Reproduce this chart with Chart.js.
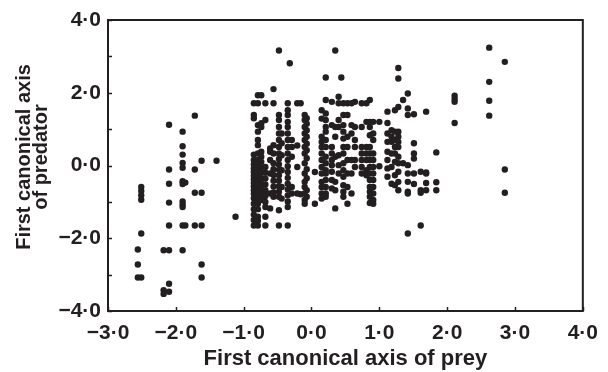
<!DOCTYPE html>
<html>
<head>
<meta charset="utf-8">
<script src="https://cdn.jsdelivr.net/npm/chart.js@4/dist/chart.umd.min.js"></script>
<style>
  html, body { margin: 0; padding: 0; background: #fff; }
  #wrap { width: 608px; height: 372px; }
</style>
</head>
<body>
<div id="wrap"><canvas id="chart" width="608" height="372"></canvas></div>
<script>
// First canonical axis of prey (x) — one entry per vertical column of dots
const preyColumns = [
  -2.56, -2.51, -2.18, -2.10, -1.90, -1.86, -1.72, -1.62, -1.40, -1.12,
  -0.85, -0.79, -0.74, -0.68, -0.61, -0.56, -0.48, -0.44, -0.35, -0.32,
  -0.29, -0.21, -0.16, -0.10, -0.07, 0.05, 0.15, 0.21, 0.30, 0.35,
  0.40, 0.44, 0.47, 0.53, 0.59, 0.64, 0.74, 0.81, 0.86, 0.91,
  1.00, 1.12, 1.18, 1.23, 1.28, 1.35, 1.42, 1.51, 1.61, 1.69,
  1.84, 2.11, 2.62, 2.85
];

// First canonical axis of predator (y) for each column above
const predatorByColumn = [
  [-2.31, -2.72, -3.08],
  [-0.59, -0.70, -0.82, -0.94, -1.87, -3.08],
  [-2.33, -3.43, -3.53],
  [1.12, -0.11, -0.50, -1.02, -1.65, -2.33, -3.25, -3.47],
  [0.93, 0.53, 0.30, 0.07, -0.06, -0.43, -0.51, -0.99, -1.07, -1.14, -1.65, -2.33],
  [-0.47, -1.65],
  [1.37, -0.11, -0.75, -1.65],
  [0.13, -0.75, -1.65, -2.72, -3.08],
  [0.13],
  [-1.41],
  [1.71, 1.39, 1.30, 0.30, 0.15, 0.03, -0.08, -0.18, -0.28, -0.38, -0.48, -0.58, -0.68, -0.78, -0.90, -1.05, -1.20, -1.35, -1.50, -1.65],
  [1.93, 1.71, 1.11, 0.93, 0.70, 0.56, 0.33, 0.15, 0.00, -0.15, -0.30, -0.45, -0.60, -0.75, -0.90, -1.05, -1.20, -1.41, -1.52, -1.65],
  [1.93, 1.16, 1.06, 0.38, 0.24, 0.10, -0.05, -0.20, -0.35, -0.50, -0.65, -0.80, -0.95],
  [1.71, 1.25, -0.04, -0.20, -0.36, -0.52, -0.68, -0.84, -1.00, -1.14, -1.41, -1.65],
  [0.47, 0.38, 0.15, -0.22, -0.77, -1.18],
  [2.10, 1.71, 0.56, 0.33, 0.06, -0.10, -0.26, -0.42, -0.58, -0.74, -0.86],
  [3.16, 1.39, 1.25, 1.06, 0.88, 0.70, 0.51, 0.33, 0.18, 0.03, -0.12, -0.27, -0.42, -0.57, -0.72, -0.86, -1.23, -1.65],
  [0.88, 0.61, 0.28, -0.13, -0.59, -0.91],
  [1.71, 1.52, 1.39, 1.20, 1.06, 0.88, 0.70, 0.51, 0.33, 0.15, -0.02, -0.18, -0.34, -0.50, -0.66, -0.82, -0.99, -1.14, -1.65],
  [2.81],
  [0.70, 0.51, 0.24, -0.59, -0.77],
  [1.71, 0.55, -0.04, -0.77],
  [1.71, -0.79],
  [1.39, 1.25, 1.06, 0.88, 0.70, 0.51, 0.33, 0.06, -0.22, -0.45, -0.59, -0.77, -0.95, -1.05],
  [1.30, 1.15, 0.97, 0.79, 0.60, 0.42, 0.20, -0.10, -0.35, -0.68, -0.86],
  [-0.18, -1.05],
  [1.52, 1.29, 0.79, 0.65, 0.51, 0.33, 0.15, -0.04, -0.22, -0.45, -0.59, -0.77, -0.91],
  [2.42, 1.80, 1.43, 1.25, 1.06, 0.93, 0.70, 0.51, 0.24, 0.06, -0.13, -0.22, -0.40, -0.59, -0.77, -0.86],
  [1.75, 1.11, 0.51, 0.33, 0.15, 0.01, -0.17, -0.40, -0.63],
  [3.16, 1.06, 0.79, 0.24, -0.45, -0.68, -1.18],
  [1.89, 1.71, 1.25, 1.06, 0.28, 0.01, -0.22],
  [2.42],
  [1.71, 1.39, 1.11, 0.93, 0.74, 0.51, 0.33, 0.06, -0.13, -0.31, -0.54, -0.72, -0.86],
  [1.71, 1.39, 0.79, 0.51, 0.15, -0.22, -0.59, -1.05],
  [1.71, 1.11, 0.88, 0.15, -0.22, -0.77],
  [1.75, 1.06, 0.70, 0.51, 0.15, -0.04],
  [1.71, 1.06, 0.51, 0.33, 0.15, -0.04, -0.22],
  [1.71, 1.20, 0.51, 0.33, 0.15, -0.13, -0.27],
  [1.80, 1.20, 1.06, 0.83, 0.51, 0.33, 0.15, -0.04, -0.22, -0.40, -0.59, -0.72, -0.86, -1.03],
  [1.20, 0.88, 0.70, 0.33, 0.15, -0.04, -0.22, -0.40, -0.59, -0.77, -0.95, -1.05],
  [1.20, -0.02],
  [1.48, 1.17, 0.88, 0.65, 0.38, 0.15, -0.08, -0.31],
  [0.97, 0.79, 0.65, 0.33, -0.04, -0.50],
  [1.52, 0.93, 0.70, 0.51, 0.33, 0.10, -0.27, -0.54],
  [2.68, 2.39, 1.61, 0.93, 0.79, 0.65, 0.51, 0.24, 0.06, -0.17, -0.45, -0.68],
  [1.80, 0.06],
  [1.98, 1.57, 1.39, 0.01, -0.22, -0.45, -0.72, -0.77, -1.87],
  [1.41, 0.61, 0.33, 0.19, -0.22, -0.51],
  [-0.17, -0.68, -0.75, -1.65],
  [1.48, -0.19, -0.22, -0.48, -0.68],
  [0.36, -0.46, -0.68],
  [1.92, 1.83, 1.75, 1.17],
  [3.24, 2.30, 1.78, 1.37],
  [2.85, -0.11, -0.75]
];

const xTitle = 'First canonical axis of prey';
const yTitle = ['First canonical axis', 'of predator'];

const ink = '#231f20';
const family = "'Liberation Sans', Arial, Helvetica, sans-serif";

const points = [];
preyColumns.forEach((x, i) => {
  predatorByColumn[i].forEach(y => points.push({ x: x, y: y }));
});

// 2.0 -> "2·0", -3 -> "−3·0"
const fmt = v => (v < 0 ? '\u2212' : '') + Math.abs(v).toFixed(1).replace('.', '\u00b7');

// inward tick marks, closed frame and the two-line y title
const frame = {
  id: 'frame',
  afterDatasetsDraw(chart) {
    const { ctx, chartArea: a, scales: { x, y } } = chart;
    ctx.save();
    ctx.strokeStyle = ink;
    ctx.lineWidth = 1.5;
    ctx.beginPath();
    x.ticks.forEach(t => {
      const px = Math.round(x.getPixelForValue(t.value)) + 0.5;
      ctx.moveTo(px, a.bottom);
      ctx.lineTo(px, a.bottom - 4);
    });
    y.ticks.forEach(t => {
      const py = Math.round(y.getPixelForValue(t.value)) + 0.5;
      ctx.moveTo(a.left, py);
      ctx.lineTo(a.left + 4, py);
    });
    ctx.stroke();
    ctx.lineWidth = 2;
    ctx.strokeRect(a.left, a.top, a.right - a.left, a.bottom - a.top);

    ctx.fillStyle = ink;
    ctx.font = 'bold 20px ' + family;
    ctx.textAlign = 'center';
    ctx.textBaseline = 'middle';
    ctx.translate(24, 157);
    ctx.rotate(-Math.PI / 2);
    yTitle.forEach((line, i) => ctx.fillText(line, 0, i * 17));
    ctx.restore();
  }
};

new Chart(document.getElementById('chart'), {
  type: 'scatter',
  data: {
    datasets: [{
      data: points,
      backgroundColor: ink,
      borderWidth: 0,
      pointRadius: 3.2,
      pointHoverRadius: 3.2
    }]
  },
  options: {
    responsive: false,
    animation: false,
    layout: { padding: { top: 20, right: 22, left: 0, bottom: 0 } },
    plugins: { legend: { display: false }, tooltip: { enabled: false } },
    scales: {
      x: {
        type: 'linear',
        min: -3,
        max: 4,
        afterFit: s => { s.height = 61; },
        grid: { display: false, drawTicks: false },
        border: { display: false },
        ticks: {
          stepSize: 1,
          padding: 10,
          color: ink,
          font: { family: family, size: 21, weight: 'bold' },
          callback: v => fmt(v),
          maxRotation: 0
        },
        title: {
          display: true,
          text: xTitle,
          color: ink,
          padding: { top: 0, bottom: 0 },
          font: { family: family, size: 22, weight: 'bold' }
        }
      },
      y: {
        type: 'linear',
        min: -4,
        max: 4,
        afterFit: s => { s.width = 108; },
        grid: { display: false, drawTicks: false },
        border: { display: false },
        ticks: {
          stepSize: 1,
          padding: 7,
          color: ink,
          font: { family: family, size: 21, weight: 'bold' },
          callback: v => (v % 2 === 0 ? fmt(v) : '')
        }
      }
    }
  },
  plugins: [frame]
});
</script>
</body>
</html>
